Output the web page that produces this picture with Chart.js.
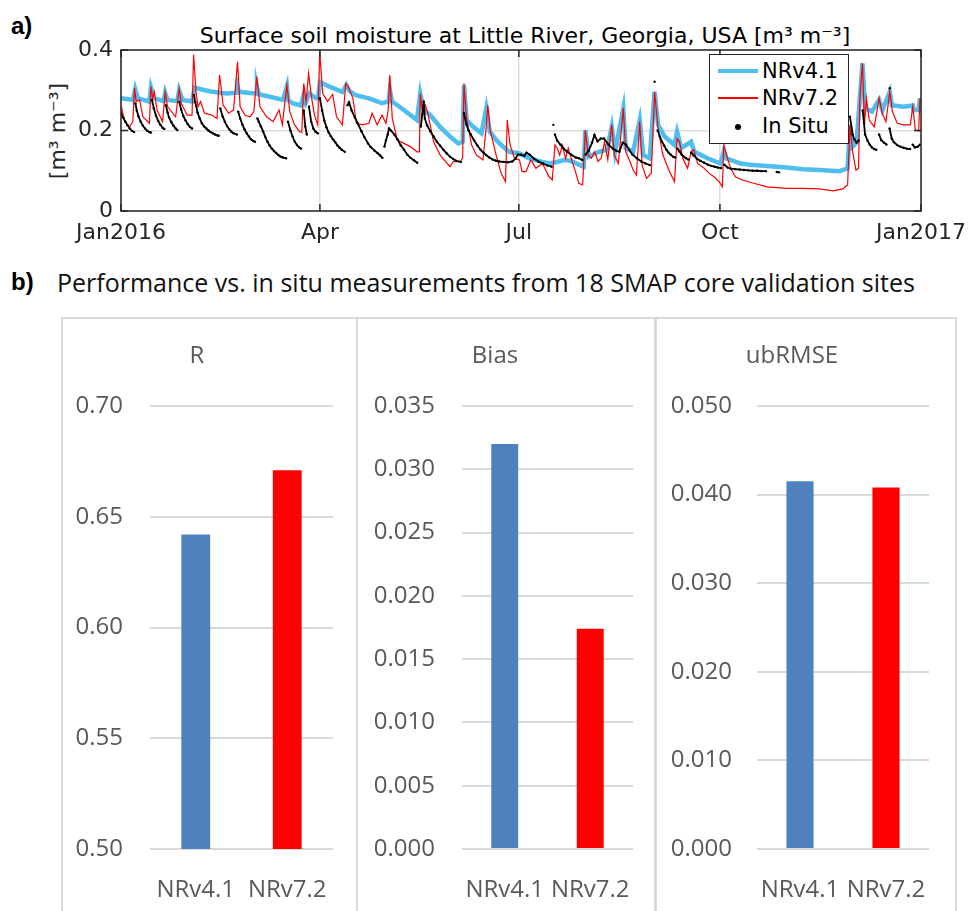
<!DOCTYPE html>
<html>
<head>
<meta charset="utf-8">
<script src="https://cdn.jsdelivr.net/npm/chart.js@4.4.0/dist/chart.umd.min.js"></script>
<style>
body{margin:0;background:#fff;width:975px;height:911px;overflow:hidden;position:relative;font-family:"DejaVu Sans",sans-serif}
.abs{position:absolute;white-space:nowrap}
#lblA,#lblB{font-family:"Liberation Sans",sans-serif;font-weight:bold;font-size:24px;line-height:26px;left:11px}
#lblA{top:13px}
#lblB{top:269px}
#titleA{left:121px;width:808px;text-align:center;top:23px;font-size:22px;line-height:26px;color:#000}
#ylabA{left:-42px;top:118px;width:200px;text-align:center;font-size:22px;line-height:26px;color:#262626;transform:rotate(-90deg)}
#legend{left:709px;top:54px;width:140px;height:90px;box-sizing:border-box;border:1.5px solid #262626;background:#fff}
#legend .sw{position:absolute;left:8px;width:40px}
#legend .tx{position:absolute;left:52px;font-size:21px;line-height:24px;color:#000}
#titleB{left:57px;top:266px;font-family:"Open Sans",sans-serif;font-size:25px;line-height:32px;color:#111}
.panel{position:absolute;top:317px;height:620px;box-sizing:border-box;border:2px solid #d9d9d9}
canvas{position:absolute}
</style>
</head>
<body>
<div class="abs" id="lblA">a)</div>
<div class="abs" id="titleA">Surface soil moisture at Little River, Georgia, USA [m³ m⁻³]</div>
<div class="abs" id="ylabA">[m³ m⁻³]</div>
<canvas id="tsChart" width="975" height="250" style="left:0;top:0"></canvas>
<div class="abs" id="legend">
  <div class="sw" style="top:14px;height:4px;background:#4dbeee"></div>
  <div class="tx" style="top:4px">NRv4.1</div>
  <div class="sw" style="top:42px;height:1.5px;background:#ff0000"></div>
  <div class="tx" style="top:31px">NRv7.2</div>
  <div class="sw" style="top:69px;left:25px;width:6px;height:6px;border-radius:3px;background:#000"></div>
  <div class="tx" style="top:59px">In Situ</div>
</div>

<div class="abs" id="lblB">b)</div>
<div class="abs" id="titleB">Performance vs. in situ measurements from 18 SMAP core validation sites</div>
<div class="panel" style="left:61px;width:297px"></div>
<div class="panel" style="left:356px;width:301px"></div>
<div class="panel" style="left:654px;width:303px"></div>
<canvas id="rChart" width="296" height="594" style="left:61px;top:317px"></canvas>
<canvas id="biasChart" width="298" height="594" style="left:357px;top:317px"></canvas>
<canvas id="ubChart" width="300" height="594" style="left:655px;top:317px"></canvas>

<script>
Chart.defaults.animation = false;
Chart.defaults.font.family = "DejaVu Sans";

/* ---- panel a) data: [day of 2016, m3/m3] ---- */
const tickDays = [0, 91, 182, 274, 366];
const tickNames = ["Jan2016", "Apr", "Jul", "Oct", "Jan2017"];
const smTicks = [0, 0.2, 0.4];
const smTickLabels = ["0", "0.2", "0.4"];

const nr41 = [[0,0.280],[5.4,0.276],[6.5,0.303],[7.7,0.280],[13,0.272],[13.7,0.307],[15.2,0.280],[19.5,0.273],[20.2,0.294],[21.3,0.276],[25.8,0.273],[26.6,0.300],[28.1,0.276],[32.5,0.272],[33.7,0.306],[40.9,0.297],[48.5,0.292],[53,0.294],[53.3,0.31],[54,0.296],[59,0.293],[62,0.292],[62.2,0.31],[63,0.29],[68.1,0.284],[74.1,0.276],[75.9,0.31],[76.5,0.275],[78.7,0.267],[82.4,0.262],[83.6,0.29],[84.5,0.27],[86.2,0.292],[89.2,0.280],[90.2,0.282],[91,0.320],[95.3,0.309],[101.3,0.296],[103.1,0.313],[104.5,0.298],[107.4,0.288],[113.4,0.280],[119.4,0.268],[122.5,0.272],[123,0.30],[124,0.272],[129.4,0.251],[135.4,0.226],[136.9,0.292],[138.5,0.251],[141.5,0.238],[146,0.209],[150.5,0.185],[154.3,0.168],[156.3,0.172],[156.9,0.313],[158.1,0.226],[161.1,0.209],[164.9,0.193],[167.1,0.255],[168.7,0.197],[171.7,0.176],[174.7,0.160],[177.7,0.147],[182.2,0.143],[186.8,0.131],[191.3,0.124],[195.8,0.118],[198.9,0.121],[203.4,0.127],[206.4,0.123],[210.2,0.113],[211.7,0.110],[212.4,0.201],[214,0.135],[218.5,0.147],[222.3,0.152],[224.5,0.209],[226,0.147],[229.8,0.255],[230.9,0.156],[234.3,0.147],[237.3,0.226],[238.9,0.139],[241.9,0.131],[244.1,0.296],[245.7,0.214],[248.7,0.185],[253.2,0.164],[254.4,0.197],[256.3,0.156],[260.8,0.172],[262.3,0.147],[268.3,0.131],[274.3,0.118],[275.8,0.15],[277,0.13],[278.9,0.127],[283.4,0.118],[289.4,0.114],[304.6,0.108],[312,0.104],[319.6,0.102],[328.7,0.099],[332.4,0.106],[333.5,0.214],[334.7,0.16],[336.5,0.17],[339.2,0.367],[340.4,0.255],[343.5,0.247],[346.8,0.276],[348.3,0.25],[351.7,0.296],[352.6,0.263],[357.9,0.259],[362.2,0.262],[362.6,0.251],[364.9,0.251],[365.5,0.280]];

const nr72 = [[0,0.263],[1.7,0.222],[3.9,0.209],[5.4,0.222],[6.2,0.306],[6.9,0.272],[8.5,0.276],[10,0.234],[13,0.218],[13.7,0.309],[14.5,0.280],[15.2,0.296],[16.5,0.251],[19,0.222],[20.2,0.295],[21.3,0.259],[25,0.234],[26.6,0.303],[27.6,0.267],[30.3,0.238],[32.5,0.238],[33.2,0.388],[34.3,0.296],[35.2,0.259],[36.4,0.272],[38.2,0.243],[41.7,0.238],[43.9,0.230],[45.1,0.338],[46.7,0.263],[49.2,0.243],[51.5,0.251],[53.3,0.371],[54.5,0.259],[56.8,0.238],[59,0.234],[60.8,0.247],[62.1,0.334],[63.6,0.259],[66.6,0.234],[69.6,0.222],[72.3,0.251],[73.8,0.214],[75.9,0.313],[77.2,0.247],[79.4,0.214],[81.7,0.197],[82.7,0.195],[83.6,0.317],[84.7,0.272],[85.8,0.342],[87,0.288],[88.5,0.238],[90,0.214],[90.9,0.396],[92.3,0.292],[94.5,0.272],[96.8,0.290],[98.6,0.234],[101.3,0.214],[102.8,0.317],[104.3,0.305],[106.1,0.280],[107.7,0.218],[110.4,0.214],[113.4,0.218],[114.9,0.243],[117.2,0.214],[119.4,0.238],[121.2,0.218],
  [122.2,0.250],[123,0.338],[124.1,0.230],[126.4,0.176],[129.4,0.168],[132.4,0.160],[135.4,0.147],[136.5,0.147],[136.9,0.292],[138.1,0.238],[139.2,0.263],[140.2,0.247],[143,0.172],[146,0.139],[150.5,0.110],[152,0.123],[155,0.123],[156.3,0.131],[156.9,0.317],[158.1,0.230],[160.4,0.164],[162.6,0.139],[165.6,0.127],[166.8,0.193],[167.8,0.263],[168.9,0.201],[171.6,0.139],[173.9,0.094],[175.9,0.073],[176.7,0.226],[178,0.164],[180,0.131],[182.3,0.127],[183.5,0.098],[185.3,0.098],[187.5,0.127],[189.8,0.106],[192.8,0.118],[195.8,0.085],[197.3,0.077],[198.5,0.164],[199.6,0.156],[200.7,0.139],[201.9,0.164],[203.4,0.131],[204.6,0.156],[206.4,0.123],[207.9,0.098],[209.4,0.069],[211.2,0.065],[212.4,0.201],[213.7,0.139],[215.2,0.131],[216.7,0.147],[218.2,0.123],[219.7,0.131],[221.2,0.172],[222.7,0.127],[224.5,0.214],[225.7,0.139],[227.5,0.118],[229.8,0.255],[230.9,0.147],[232.8,0.123],[234.3,0.102],[235.8,0.089],[237.3,0.222],[238.4,0.114],[240.4,0.081],[242.6,0.094],[244.1,0.296],
  [245.7,0.205],[247.9,0.139],[250.9,0.098],[253.2,0.073],[254.4,0.180],[255.5,0.172],[257,0.131],[259.2,0.106],[260.8,0.147],[262,0.152],[263.8,0.118],[266.8,0.106],[269,0.094],[271.3,0.085],[273.6,0.073],[275.1,0.060],[275.8,0.164],[277,0.139],[278.9,0.106],[281.1,0.085],[284.2,0.077],[289.4,0.069],[295.5,0.060],[304.6,0.056],[312,0.056],[319.6,0.055],[325.7,0.050],[330.2,0.055],[332.4,0.065],[333.5,0.214],[334.7,0.147],[336.2,0.102],[337.4,0.106],[338,0.280],[339.2,0.367],[340.1,0.214],[341,0.280],[342.3,0.226],[344.6,0.209],[346.8,0.280],[348.3,0.243],[349.9,0.222],[351.7,0.296],[352.9,0.247],[355.1,0.218],[358.1,0.214],[361.1,0.214],[362.2,0.259],[363.4,0.201],[364.9,0.199],[365.5,0.280]];

// in situ record, one sub-array per drying curve
const inSitu = [
  [[0,0.243],[1,0.232],[2,0.222],[3,0.213],[4,0.205],[5,0.199],[6,0.196]],
  [[6.6,0.267],[7.2,0.25],[8,0.235],[9,0.222],[10,0.212],[11,0.205],[12,0.199],[13,0.196],[13.7,0.195]],
  [[14.2,0.276],[15,0.255],[16,0.237],[17,0.224],[18,0.214],[19,0.207],[19.8,0.204]],
  [[20.5,0.263],[21.3,0.245],[22,0.232],[23,0.221],[24,0.212],[25,0.205],[25.8,0.201]],
  [[26.7,0.271],[27.5,0.252],[28.5,0.236],[29.5,0.225],[30.5,0.216],[31.5,0.209],[32.5,0.205]],
  [[33.4,0.288],[34,0.27],[35,0.245],[36,0.23],[37,0.218],[38,0.21],[39,0.205],[40,0.2],[41,0.196],[42,0.193],[43,0.19],[44,0.188],[44.7,0.187]],
  [[45.4,0.255],[46.5,0.235],[47.5,0.222],[48.5,0.211],[49.5,0.203],[50.5,0.197],[51.5,0.193],[53,0.19]],
  [[53.6,0.247],[54.5,0.230],[55.5,0.215],[56.5,0.203],[57.5,0.193],[58.5,0.185],[59.5,0.178],[60.5,0.174],[61.3,0.172]],
  [[62.4,0.230],[63,0.222],[64,0.21],[65,0.198],[66,0.184],[67,0.172],[68,0.163],[69,0.155],[70,0.149],[71,0.144],[72,0.139],[73,0.135],[74,0.133],[75.5,0.131]],
  [[76.4,0.222],[77.5,0.2],[78.5,0.185],[79.5,0.172],[80.5,0.164],[81.5,0.158],[82.4,0.155]],
  [[83.6,0.25],[84.3,0.21],[85,0.19]],
  [[86,0.259],[87,0.222],[88,0.205],[89,0.197],[90,0.193]],
  [[91,0.28],[92,0.25],[93,0.225],[94,0.208],[95,0.195],[96,0.186],[97,0.178],[98,0.171],[99,0.163],[100,0.157],[101,0.152],[102.4,0.147]],
  [[103.6,0.263],[104.3,0.27],[105.5,0.25],[107,0.232],[108.3,0.218],[110,0.198],[111.3,0.184],[113,0.168],[114.2,0.159],[116,0.150],[117.3,0.144],[118.5,0.138],[119.6,0.132]],
  [[120.5,0.16],[121.2,0.175],[122,0.19],[122.6,0.205],[123.5,0.2],[125,0.19],[126.5,0.178],[128,0.163],[129.5,0.152],[131,0.14],[132.5,0.132],[134,0.126],[135.5,0.12]],
  [[137.2,0.21],[137.8,0.24],[138.5,0.272],[139,0.23],[140,0.213],[141.5,0.198],[143,0.185],[144.5,0.172],[146,0.162],[147.5,0.152],[149,0.143],[150.5,0.135],[152,0.129],[153.6,0.124],[155.5,0.122]],
  [[156.9,0.243],[158,0.215],[159,0.2],[160,0.19],[161.5,0.176],[163,0.163],[164.5,0.152],[166,0.144],[167,0.139],[168.5,0.133],[170,0.128],[171.5,0.125],[173,0.123],[175,0.122],[177,0.121],[179,0.123],
   [180.5,0.13],[181.5,0.14],[183,0.14],[184.5,0.137],[185.5,0.145],[187,0.14],[189,0.13],[191,0.123],[193,0.118],[195,0.113],[197,0.11]],
  [[197.8,0.214]],
  [[198.5,0.19],[199.5,0.175],[201,0.165],[202.5,0.155],[204,0.148],[206,0.14],[208,0.133],[209.5,0.131],[211,0.127]],
  [[212.5,0.14],[214,0.15],[215.5,0.17],[216.6,0.189],[218,0.173],[219.5,0.18],[221,0.18],[223,0.165],[225,0.155],[226.5,0.15],[228,0.147],[229.5,0.17],[231,0.165],[232.5,0.152],[234,0.14],[236,0.131],[238,0.123],[240,0.118],[242,0.114]],
  [[244.1,0.321]],
  [[245.5,0.2],[246.5,0.185],[247.5,0.172],[248.5,0.162],[249.5,0.152],[250.5,0.145],[251.5,0.14],[252.5,0.135],[253.5,0.133]],
  [[254.5,0.155],[255.5,0.148],[256.5,0.14],[257.5,0.135],[258.5,0.131],[259.5,0.128]],
  [[260.8,0.145],[262,0.138],[263.5,0.13],[265,0.125],[266.8,0.12],[268.5,0.115],[270,0.112],[271.5,0.11],[273,0.108],[274.5,0.107]],
  [[276,0.115],[277.5,0.108],[279,0.105],[281,0.104],[283,0.103],[285,0.102],[287,0.101],[289,0.1],[291,0.1],[293,0.099],[295,0.099]],
  [[300,0.097],[301,0.096]],
  [[333.5,0.234],[334.7,0.19],[335.5,0.178],[336.5,0.17],[337.5,0.175]],
  [[339.3,0.25],[340.4,0.19],[341.5,0.175],[342.5,0.165],[343.5,0.158],[344.5,0.154],[345.5,0.152]],
  [[346.8,0.19],[347.8,0.176],[349,0.17],[350.2,0.165]],
  [[351.7,0.305]],
  [[351.6,0.205],[352.6,0.18],[353.6,0.171],[355,0.164],[356.5,0.16],[358,0.157],[359.5,0.155],[361,0.154]],
  [[362.2,0.165],[363.2,0.158],[364.5,0.16],[365.5,0.165]]
];

/* ---- panel b) data ---- */
const models = ["NRv4.1", "NRv7.2"];
const barColors = ["#4f81bd", "#ff0000"];
const rVals = [0.642, 0.671];
const biasVals = [0.0320, 0.0174];
const ubVals = [0.0415, 0.0408];
const rTicks = [0.50, 0.55, 0.60, 0.65, 0.70];
const rTickLabels = ["0.50", "0.55", "0.60", "0.65", "0.70"];
const biasTicks = [0, 0.005, 0.010, 0.015, 0.020, 0.025, 0.030, 0.035];
const biasTickLabels = ["0.000", "0.005", "0.010", "0.015", "0.020", "0.025", "0.030", "0.035"];
const ubTicks = [0, 0.010, 0.020, 0.030, 0.040, 0.050];
const ubTickLabels = ["0.000", "0.010", "0.020", "0.030", "0.040", "0.050"];

const pts = arr => arr.map(p => ({x: p[0], y: p[1]}));
// break the line between drying curves
const segPts = segs => segs.flatMap(s => [...pts(s), {x: s[s.length - 1][0] + 0.01, y: null}]);

/* box round the axes + inward ticks, matlab style */
const boxPlugin = {
  id: "box",
  afterDraw(chart){
    const {ctx, chartArea: a, scales: {x, y}} = chart;
    ctx.save();
    ctx.strokeStyle = "#262626";
    ctx.lineWidth = 1.5;
    ctx.strokeRect(a.left, a.top, a.right - a.left, a.bottom - a.top);
    ctx.beginPath();
    tickDays.forEach(d => {
      const px = x.getPixelForValue(d);
      ctx.moveTo(px, a.bottom); ctx.lineTo(px, a.bottom - 7);
      ctx.moveTo(px, a.top); ctx.lineTo(px, a.top + 7);
    });
    smTicks.forEach(v => {
      const py = y.getPixelForValue(v);
      ctx.moveTo(a.left, py); ctx.lineTo(a.left + 7, py);
      ctx.moveTo(a.right, py); ctx.lineTo(a.right - 7, py);
    });
    ctx.stroke();
    ctx.restore();
  }
};

new Chart(document.getElementById("tsChart"), {
  type: "line",
  data: {
    datasets: [
      {label: "In Situ", data: segPts(inSitu), borderColor: "#000", borderWidth: 1.8, spanGaps: false,
       pointRadius: 1.2, pointHoverRadius: 0, pointBackgroundColor: "#000", pointBorderWidth: 0, tension: 0, order: 0},
      {label: "NRv7.2", data: pts(nr72), borderColor: "#ff0000", borderWidth: 1.2, pointRadius: 0, tension: 0, order: 1},
      {label: "NRv4.1", data: pts(nr41), borderColor: "#4dbeee", borderWidth: 4.5, pointRadius: 0, tension: 0, order: 2}
    ]
  },
  options: {
    responsive: false,
    layout: {padding: {left: 0, right: 46, top: 50, bottom: 0}},
    plugins: {legend: {display: false}, tooltip: {enabled: false}},
    scales: {
      x: {
        type: "linear", min: 0, max: 366,
        afterBuildTicks: s => { s.ticks = tickDays.map(v => ({value: v})); },
        afterFit: s => { s.height = 39; },
        grid: {color: "#dedede", lineWidth: 1.5, drawTicks: false},
        border: {display: false},
        ticks: {autoSkip: false, maxRotation: 0, padding: 9, color: "#262626",
                font: {size: 22}, callback: v => tickNames[tickDays.indexOf(v)]}
      },
      y: {
        min: 0, max: 0.4,
        afterBuildTicks: s => { s.ticks = smTicks.map(v => ({value: v})); },
        afterFit: s => { s.width = 121; },
        grid: {color: "#dedede", lineWidth: 1.5, drawTicks: false},
        border: {display: false},
        ticks: {padding: 8, color: "#262626", font: {size: 22},
                callback: (v, i) => smTickLabels[i]}
      }
    }
  },
  plugins: [boxPlugin]
});

function barPanel(id, title, vals, ticks, tickLabels, yMin, yMax, yWidth, padRight, tickPad){
  const f = {family: "Open Sans", size: 24, weight: "normal"};
  new Chart(document.getElementById(id), {
    type: "bar",
    data: {
      labels: models,
      datasets: [{data: vals, backgroundColor: barColors, barPercentage: 0.63, categoryPercentage: 0.5}]
    },
    options: {
      responsive: false,
      layout: {padding: {left: 0, right: padRight, top: 0, bottom: 0}},
      plugins: {
        legend: {display: false},
        tooltip: {enabled: false},
        title: {display: true, text: title, color: "#595959", font: {family: "Open Sans", size: 24, weight: "normal"},
                padding: {top: 25, bottom: 35.2}}
      },
      scales: {
        x: {
          grid: {display: false}, border: {display: false},
          afterFit: s => { s.height = 62; },
          ticks: {color: "#595959", font: f, padding: 19, maxRotation: 0}
        },
        y: {
          min: yMin, max: yMax,
          afterBuildTicks: s => { s.ticks = ticks.map(v => ({value: v})); },
          afterFit: s => { s.width = yWidth; },
          grid: {color: "#d9d9d9", lineWidth: 2, drawTicks: false},
          border: {display: false},
          ticks: {color: "#595959", font: f, padding: tickPad, callback: (v, i) => tickLabels[i]}
        }
      }
    }
  });
}

barPanel("rChart", "R", rVals, rTicks, rTickLabels, 0.5, 0.7, 89, 24, 27);
barPanel("biasChart", "Bias", biasVals, biasTicks, biasTickLabels, 0, 0.035, 105, 22, 27);
barPanel("ubChart", "ubRMSE", ubVals, ubTicks, ubTickLabels, 0, 0.05, 102, 26, 25);
</script>
</body>
</html>
